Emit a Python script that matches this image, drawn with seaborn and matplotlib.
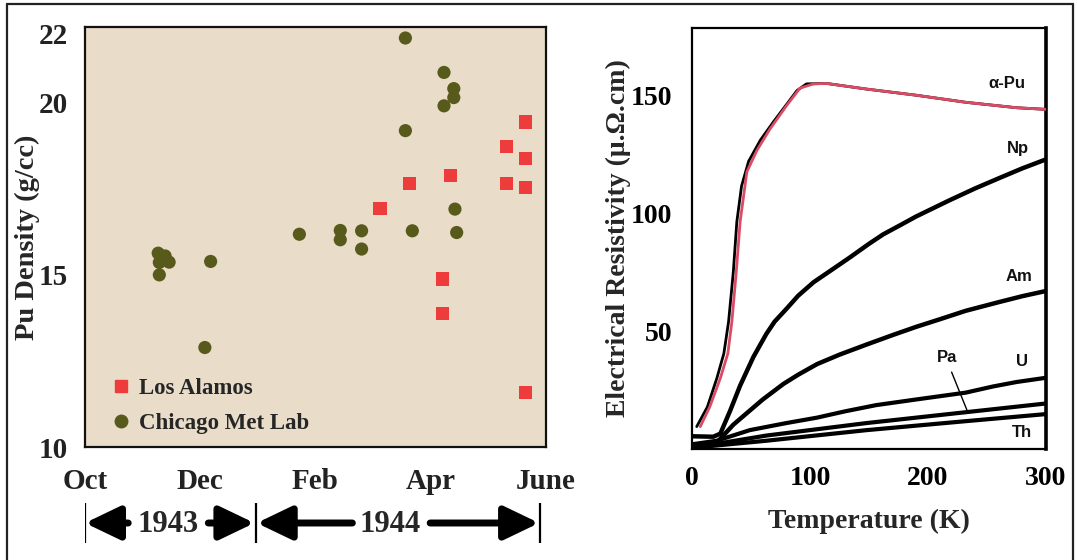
import matplotlib
matplotlib.use("Agg")
import matplotlib.pyplot as plt
from matplotlib.lines import Line2D
import numpy as np
import pandas as pd
import seaborn as sns

sns.set_style("white")
plt.rcParams['font.family'] = ['Liberation Serif', 'DejaVu Serif']

# ---------------- data: left panel ----------------
month_ticks = [0, 2, 4, 6, 8]
month_labels = ['Oct', 'Dec', 'Feb', 'Apr', 'June']
density_ticks = [10, 15, 20, 22]

chicago_month = [1.27, 1.39, 1.29, 1.46, 1.29, 2.18, 2.08, 3.72, 4.43, 4.43, 4.80,
                 4.80, 5.56, 5.56, 5.68, 6.23, 6.23, 6.40, 6.40, 6.42, 6.45]
chicago_density = [15.63, 15.55, 15.36, 15.37, 15.00, 15.39, 12.89, 16.18, 16.29, 16.02, 16.28,
                   15.75, 21.88, 19.19, 16.28, 20.88, 19.91, 20.41, 20.15, 16.91, 16.23]
losalamos_month = [5.12, 5.63, 6.34, 6.21, 6.21, 7.31, 7.31, 7.64, 7.64, 7.64, 7.64]
losalamos_density = [16.92, 17.65, 17.89, 14.88, 13.87, 18.72, 17.65, 19.44, 18.38, 17.54, 11.58]

# ---------------- data: right panel ----------------
apu_black_T = [4, 13, 21, 27, 31, 35, 38, 42, 48, 58, 69, 80, 89, 97, 114, 148, 190, 232, 275, 300]
apu_black_R = [9.5, 17.8, 29.9, 40.5, 54, 75, 96.4, 111.5, 122, 131, 138.7, 146, 152, 154.8, 155, 152.6, 150, 147, 144.7, 144]
apu_red_T = [7, 15, 24, 30.4, 33.8, 37.5, 40.8, 46.5, 55, 66, 80, 91.5, 103, 114, 148, 190, 232, 275, 300]
apu_red_R = [9.5, 17.8, 30, 40.5, 54, 75, 96.4, 117.5, 126.6, 135.6, 145.5, 153, 154.8, 155, 152.6, 150, 147, 144.7, 144]
np_T = [0, 18, 24, 32.4, 40.8, 52, 63, 70, 80, 90, 103, 120, 134, 150, 162, 175, 190, 218, 240, 261, 280, 300]
np_R = [5.4, 5.2, 6.5, 16.3, 26.9, 39, 48.8, 54, 59.4, 65, 70.7, 76.5, 81.3, 87, 91, 94.5, 98.6, 105.4, 110.5, 115, 119, 122.8]
am_T = [22.5, 35, 49, 60, 77.5, 90, 106, 125, 148, 170, 190, 210, 232, 261, 280, 300]
am_R = [3.5, 10.3, 16.3, 21, 27.6, 31.5, 36, 40, 44.3, 48.3, 51.8, 55, 58.6, 62.4, 64.8, 67]
u_T = [0, 21, 49, 80, 106, 130, 156, 190, 232, 255, 275, 300]
u_R = [2, 3.5, 8, 11, 13.3, 16, 18.6, 21, 23.9, 26.5, 28.4, 30.2]
pa_T = [0, 63, 148, 232, 300]
pa_R = [0.5, 5.7, 11, 15.6, 19.3]
th_T = [0, 63, 148, 232, 300]
th_R = [0.5, 3.5, 8, 11.8, 14.8]
element_labels = ['\u03b1-Pu', 'Np', 'Am', 'Pa', 'U', 'Th']

RED = '#EE3B3B'
GREEN = '#585A1C'
TAN = '#E9DCC9'
PINK = '#DC4B66'

fig = plt.figure(figsize=(10.77, 5.60), dpi=100)
W, H = 1077, 560

def ax_rect(l, t, r, b):
    return [l / W, 1 - b / H, (r - l) / W, (b - t) / H]

# ---------------- left panel ----------------
ax1 = fig.add_axes(ax_rect(85, 27, 546, 447))
ax1.set_facecolor(TAN)
df_s = pd.DataFrame({
    'month': chicago_month + losalamos_month,
    'density': chicago_density + losalamos_density,
    'lab': ['Chicago Met Lab'] * len(chicago_month) + ['Los Alamos'] * len(losalamos_month),
})
sns.scatterplot(data=df_s, x='month', y='density', hue='lab', style='lab',
                palette={'Los Alamos': RED, 'Chicago Met Lab': GREEN},
                markers={'Los Alamos': 's', 'Chicago Met Lab': 'o'},
                s=90, linewidth=0, ax=ax1, legend=False, zorder=3)
ax1.set_xlim(0, 8)
ax1.set_ylim(10, 22.2)
ax1.set_xticks(month_ticks)
ax1.set_xticklabels(month_labels)
ax1.set_xticks(np.arange(0, 9, 1), minor=True)
ax1.set_yticks(density_ticks)
ax1.set_yticks(np.arange(10, 23, 1), minor=True)
ax1.tick_params(axis='both', which='both', direction='in', colors='#222222')
ax1.tick_params(axis='x', which='major', length=0, pad=15)
ax1.tick_params(axis='x', which='minor', length=6, width=1)
ax1.tick_params(axis='y', which='major', length=0, pad=12)
ax1.tick_params(axis='y', which='minor', length=5, width=1)
for lab in ax1.get_xticklabels() + ax1.get_yticklabels():
    lab.set_fontsize(21)
    lab.set_fontweight('bold')
ax1.set_xlabel('')
ax1.set_ylabel('Pu Density (g/cc)', fontsize=20.5, fontweight='bold', labelpad=-1)
for sp in ax1.spines.values():
    sp.set_color('#111111')
    sp.set_linewidth(1.6)

handles = [Line2D([], [], marker='s', color=RED, linestyle='none', markersize=9),
           Line2D([], [], marker='o', color=GREEN, linestyle='none', markersize=9)]
ax1.legend(handles, ['Los Alamos', 'Chicago Met Lab'], loc='lower left',
           bbox_to_anchor=(0.008, -0.018), frameon=False, handletextpad=0.3,
           handlelength=1.0, labelspacing=0.6, prop={'size': 16.5, 'weight': 'bold'})

# timeline beneath the left panel
axt = fig.add_axes(ax_rect(85, 503, 546, 543))
axt.set_xlim(0, 8)
axt.set_ylim(0, 1)
axt.axis('off')
for xb in [0, 2.96, 7.9]:
    axt.plot([xb, xb], [0, 1], color='black', lw=1.6, solid_capstyle='butt')
arrow_kw = dict(arrowstyle='-|>,head_length=1.25,head_width=0.6', lw=5,
                color='black', mutation_scale=17, shrinkA=0, shrinkB=0)
for x0, x1 in [(0.75, 0.0), (2.14, 2.94), (4.64, 2.98), (5.99, 7.88)]:
    axt.annotate('', xy=(x1, 0.5), xytext=(x0, 0.5), arrowprops=arrow_kw)
axt.text(1.44, 0.45, '1943', ha='center', va='center', fontsize=22, fontweight='bold')
axt.text(5.3, 0.45, '1944', ha='center', va='center', fontsize=22, fontweight='bold')

# ---------------- right panel ----------------
ax2 = fig.add_axes(ax_rect(692, 28, 1046, 449))
ax2.set_facecolor('white')
curves = [(apu_black_T, apu_black_R, 'black', 2.0),
          (np_T, np_R, 'black', 3.2),
          (am_T, am_R, 'black', 3.2),
          (u_T, u_R, 'black', 3.0),
          (pa_T, pa_R, 'black', 3.0),
          (th_T, th_R, 'black', 3.0),
          (apu_red_T, apu_red_R, PINK, 2.0)]
for T, R, c, lw in curves:
    sns.lineplot(x=T, y=R, color=c, lw=lw, ax=ax2, zorder=3)
ax2.set_xlim(0, 300)
ax2.set_ylim(0, 178.5)
ax2.set_xticks([0, 100, 200, 300])
ax2.set_xticks([50, 100, 150, 200, 250], minor=True)
ax2.set_yticks([50, 100, 150])
ax2.tick_params(axis='both', which='both', direction='in', colors='black')
ax2.tick_params(axis='x', which='major', length=0, pad=12)
ax2.tick_params(axis='x', which='minor', length=7, width=1.4)
ax2.tick_params(axis='y', which='major', length=9, width=1.2, pad=14)
for lab in ax2.get_xticklabels() + ax2.get_yticklabels():
    lab.set_fontsize(20)
    lab.set_fontweight('bold')
ax2.set_xlabel('Temperature (K)', fontsize=20, fontweight='bold', labelpad=13)
ax2.set_ylabel('Electrical Resistivity (\u03bc.\u03a9.cm)', fontsize=20, fontweight='bold', labelpad=0)
for name, sp in ax2.spines.items():
    sp.set_color('black')
    sp.set_linewidth(1.6)
ax2.spines['right'].set_linewidth(2.6)

label_pos = [(267, 155), (276, 127.5), (277, 73), (216, 39), (280, 37), (280, 7.2)]
for txt, (tx, ty) in zip(element_labels, label_pos):
    ax2.text(tx, ty, txt, ha='center', va='center', fontsize=12, fontweight='bold',
             family=['Liberation Sans', 'DejaVu Sans'], color='#111111')
ax2.plot([220, 233], [32.6, 16.5], color='black', lw=1.0)

# outer frame
for (x0, y0, x1, y1) in [(7, 4, 1073, 4), (7, 4, 7, 560), (1073, 4, 1073, 560)]:
    fig.add_artist(Line2D([x0 / W, x1 / W], [1 - y0 / H, 1 - y1 / H],
                          transform=fig.transFigure, color='#222222', lw=1.6))

fig.savefig('out.png', dpi=100)
